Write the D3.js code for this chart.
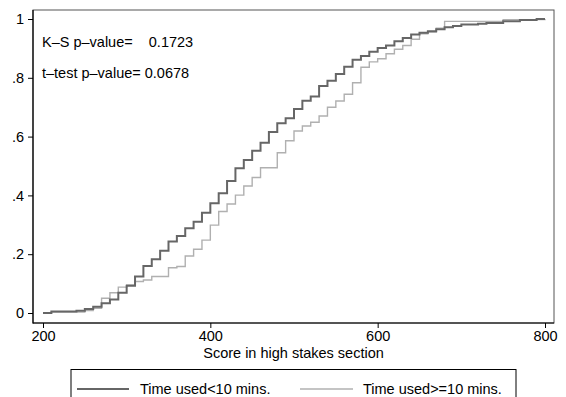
<!DOCTYPE html>
<html>
<head>
<meta charset="utf-8">
<script src="https://cdn.jsdelivr.net/npm/d3@7"></script>
<style>
  body { margin: 0; background: #fff; }
  text { font-family: "Liberation Sans", Arial, sans-serif; font-size: 14.5px; fill: #000; }
</style>
</head>
<body>
<div id="chart"></div>
<script>
// score values (x) where each ECDF step starts
var scores = [200,210,220,230,240,250,260,270,280,290,
              300,310,320,330,340,350,360,370,380,390,
              400,410,420,430,440,450,460,470,480,490,
              500,510,520,530,540,550,560,570,580,590,
              600,610,620,630,640,650,660,670,680,690,
              700,710,720,730,740,750,760,770,780,790,800];

// cumulative share, Time used<10 mins.
var under10 = [0.000,0.005,0.005,0.005,0.008,0.014,0.021,0.033,0.046,0.069,
               0.093,0.124,0.160,0.183,0.212,0.243,0.262,0.288,0.310,0.341,
               0.373,0.407,0.449,0.492,0.520,0.552,0.579,0.616,0.645,0.662,
               0.694,0.722,0.736,0.772,0.790,0.813,0.838,0.861,0.874,0.889,
               0.901,0.910,0.924,0.935,0.947,0.953,0.958,0.965,0.972,0.976,
               0.981,0.981,0.984,0.986,0.986,0.992,0.992,0.997,0.997,1.000,1.000];

// cumulative share, Time used>=10 mins.
var over10 = [0.000,0.003,0.003,0.003,0.003,0.008,0.016,0.050,0.069,0.088,
              0.095,0.107,0.112,0.124,0.124,0.154,0.158,0.194,0.217,0.248,
              0.299,0.345,0.371,0.401,0.432,0.461,0.494,0.494,0.545,0.586,
              0.619,0.636,0.649,0.670,0.700,0.721,0.744,0.783,0.836,0.854,
              0.865,0.882,0.897,0.910,0.931,0.950,0.956,0.969,0.992,0.992,
              0.992,0.992,0.992,0.992,0.992,0.998,0.998,0.998,0.998,0.998,1.000];

var xTicks = [200, 400, 600, 800];
var yTicks = [0, 0.2, 0.4, 0.6, 0.8, 1];
var yTickLabels = ["0", ".2", ".4", ".6", ".8", "1"];

var seriesNames = ["Time used<10 mins.", "Time used>=10 mins."];
var notes = ["K\u2013S p\u2013value=    0.1723", "t\u2013test p\u2013value= 0.0678"];

var width = 566, height = 397;
var frame = {left: 33, right: 554, top: 10, bottom: 323};

var svg = d3.select("#chart")
            .append("svg")
            .attr("width", width)
            .attr("height", height);

var x = d3.scaleLinear().domain([200, 800]).range([43, 545]);
var y = d3.scaleLinear().domain([0, 1]).range([313, 19]);

// plot region border
svg.append("rect")
   .attr("x", frame.left).attr("y", frame.top)
   .attr("width", frame.right - frame.left)
   .attr("height", frame.bottom - frame.top)
   .style("fill", "none")
   .style("stroke", "#555")
   .style("stroke-width", 1);

var xAxis = d3.axisBottom(x).tickValues(xTicks).tickSize(5).tickPadding(3);
var yAxis = d3.axisLeft(y).tickValues(yTicks).tickSize(5).tickPadding(4)
              .tickFormat(function(d, i) { return yTickLabels[i]; });

var gx = svg.append("g").attr("transform", "translate(0," + frame.bottom + ")").call(xAxis);
var gy = svg.append("g").attr("transform", "translate(" + frame.left + ",0)").call(yAxis);
[gx, gy].forEach(function(g) {
  g.select(".domain").remove();
  g.selectAll("line").style("stroke", "#000");
  g.selectAll("text").style("font-family", "'Liberation Sans', Arial, sans-serif").style("font-size", "14.5px").style("fill", "#000");
});

// axis lines
svg.append("line").attr("x1", frame.left).attr("x2", frame.left)
   .attr("y1", frame.top).attr("y2", frame.bottom + 0.5)
   .style("stroke", "#000").style("stroke-width", 1.2);
svg.append("line").attr("x1", frame.left).attr("x2", frame.right)
   .attr("y1", frame.bottom).attr("y2", frame.bottom)
   .style("stroke", "#000").style("stroke-width", 1.2);

var line = d3.line()
             .x(function(d) { return x(d[0]); })
             .y(function(d) { return y(d[1]); })
             .curve(d3.curveStepAfter);

var styles = [{color: "#666", w: 2}, {color: "#b0b0b0", w: 1.4}];

svg.append("path")
   .datum(d3.zip(scores, over10))
   .attr("d", line)
   .style("fill", "none")
   .style("stroke", styles[1].color)
   .style("stroke-width", styles[1].w);

svg.append("path")
   .datum(d3.zip(scores, under10))
   .attr("d", line)
   .style("fill", "none")
   .style("stroke", styles[0].color)
   .style("stroke-width", styles[0].w);

// test results
svg.selectAll(".note")
   .data(notes)
   .enter().append("text")
   .attr("class", "note")
   .attr("x", 42)
   .attr("y", function(d, i) { return 47 + i * 31; })
   .style("white-space", "pre")
   .attr("xml:space", "preserve")
   .text(function(d) { return d; });

svg.append("text")
   .attr("x", (frame.left + frame.right) / 2)
   .attr("y", 358)
   .attr("text-anchor", "middle")
   .text("Score in high stakes section");

// legend
svg.append("rect")
   .attr("x", 71).attr("y", 369.5)
   .attr("width", 445).attr("height", 40)
   .style("fill", "#fff")
   .style("stroke", "#000")
   .style("stroke-width", 1);

var keys = [{x1: 77, x2: 129, tx: 140}, {x1: 300, x2: 353, tx: 363}];
keys.forEach(function(k, i) {
  svg.append("line")
     .attr("x1", k.x1).attr("x2", k.x2)
     .attr("y1", 389).attr("y2", 389)
     .style("stroke", styles[i].color)
     .style("stroke-width", styles[i].w);
  svg.append("text")
     .attr("x", k.tx).attr("y", 394)
     .text(seriesNames[i]);
});
</script>
</body>
</html>
